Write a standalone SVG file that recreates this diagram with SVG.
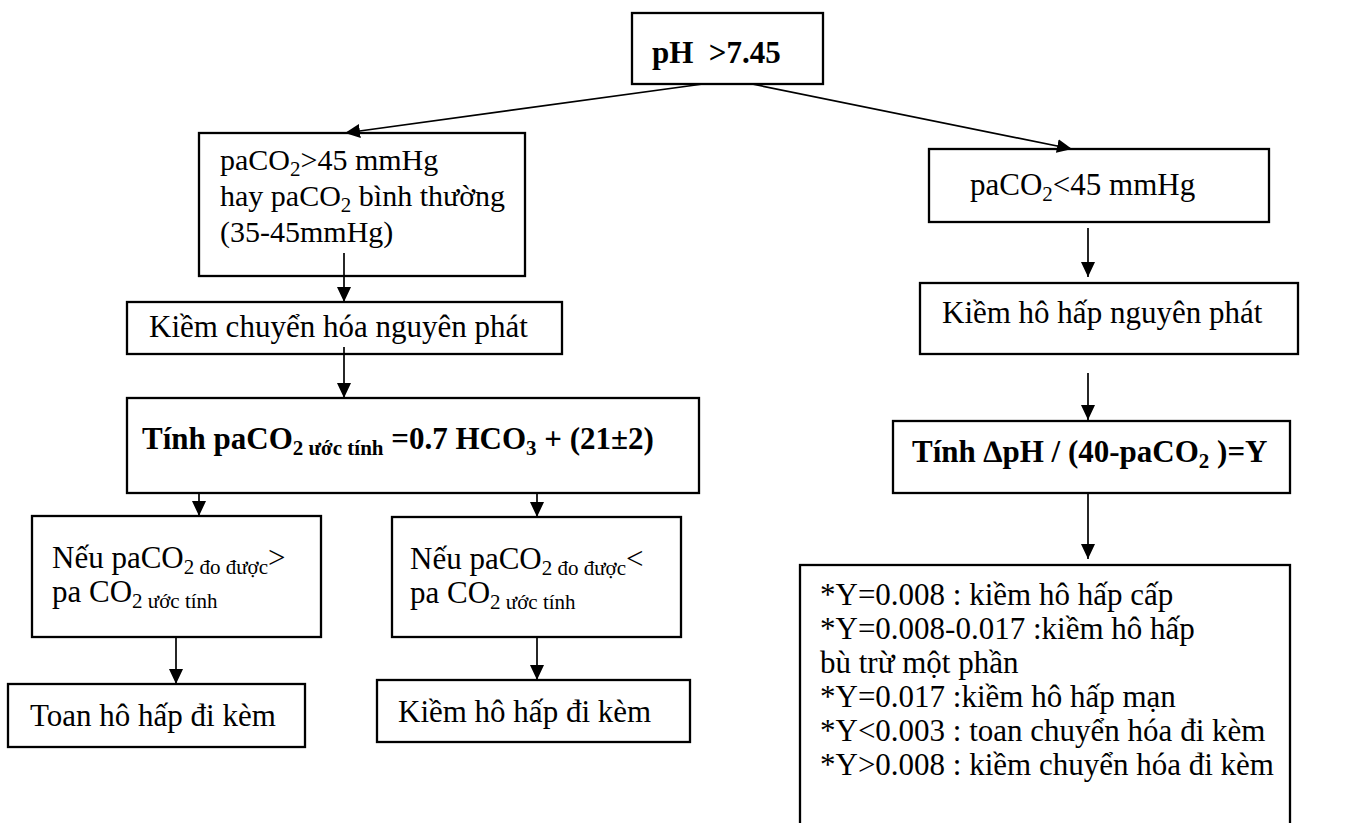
<svg xmlns="http://www.w3.org/2000/svg" width="1356" height="823" viewBox="0 0 1356 823">
<style>
rect.b{fill:#fff;stroke:#000;stroke-width:2.3}
text{font-family:"Liberation Serif","Times New Roman",serif;font-size:31px;fill:#000}
text.bd{font-weight:bold}
text.m{font-size:30px}
.s{font-size:21px}
#connectors line{stroke:#000;stroke-width:1.7;fill:none}
</style>
<defs>
<marker id="ah" markerUnits="userSpaceOnUse" markerWidth="16" markerHeight="16" viewBox="0 0 16 16" refX="15" refY="8" orient="auto">
<path d="M0,1 L15,8 L0,15 Z" fill="#000"/>
</marker>
</defs>
<rect width="1356" height="823" fill="#fff"/>
<g id="n_ph">
<rect class="b" x="632" y="13" width="191" height="71"/>
<text class="bd" x="652" y="63" xml:space="preserve">pH  &gt;7.45</text>
</g>
<g id="n_left1">
<rect class="b" x="199" y="133" width="326" height="143"/>
<text class="m" x="220" y="170">paCO<tspan class="s" dy="6">2</tspan><tspan dy="-6">&gt;45 mmHg</tspan></text>
<text class="m" x="220" y="206">hay paCO<tspan class="s" dy="6">2</tspan><tspan dy="-6"> bình thường</tspan></text>
<text class="m" x="220" y="242">(35-45mmHg)</text>
</g>
<g id="n_kcc">
<rect class="b" x="127" y="302" width="435" height="52"/>
<text x="149" y="337">Kiềm chuyển hóa nguyên phát</text>
</g>
<g id="n_tinh1">
<rect class="b" x="127" y="398" width="572" height="95"/>
<text class="bd" x="142" y="449">Tính paCO<tspan class="s" dy="6">2 ước tính</tspan><tspan dy="-6"> =0.7 HCO</tspan><tspan class="s" dy="6">3</tspan><tspan dy="-6"> + (21±2)</tspan></text>
</g>
<g id="n_a">
<rect class="b" x="32" y="516" width="289" height="121"/>
<text x="52" y="568">Nếu paCO<tspan class="s" dy="6">2 đo được</tspan><tspan dy="-6">&gt;</tspan></text>
<text x="52" y="602">pa CO<tspan class="s" dy="6">2 ước tính</tspan></text>
</g>
<g id="n_b">
<rect class="b" x="392" y="517" width="289" height="120"/>
<text x="410" y="569">Nếu paCO<tspan class="s" dy="6">2 đo được</tspan><tspan dy="-6">&lt;</tspan></text>
<text x="410" y="603">pa CO<tspan class="s" dy="6">2 ước tính</tspan></text>
</g>
<g id="n_toan">
<rect class="b" x="8" y="684" width="297" height="63"/>
<text x="30" y="726">Toan hô hấp đi kèm</text>
</g>
<g id="n_kiemdk">
<rect class="b" x="377" y="680" width="313" height="62"/>
<text x="398" y="722">Kiềm hô hấp đi kèm</text>
</g>
<g id="n_right1">
<rect class="b" x="929" y="149" width="340" height="73"/>
<text x="970" y="195">paCO<tspan class="s" dy="6">2</tspan><tspan dy="-6">&lt;45 mmHg</tspan></text>
</g>
<g id="n_khh">
<rect class="b" x="920" y="283" width="378" height="71"/>
<text x="942" y="323">Kiềm hô hấp nguyên phát</text>
</g>
<g id="n_tinh2">
<rect class="b" x="893" y="421" width="397" height="72"/>
<text class="bd" x="912" y="462">Tính ∆pH / (40-paCO<tspan class="s" dy="6">2</tspan><tspan dy="-6"> )=Y</tspan></text>
</g>
<g id="n_result">
<rect class="b" x="800" y="565" width="490" height="270"/>
<text x="820" y="605">*Y=0.008 : kiềm hô hấp cấp</text>
<text x="820" y="639">*Y=0.008-0.017 :kiềm hô hấp</text>
<text x="820" y="673">bù trừ một phần</text>
<text x="820" y="707">*Y=0.017 :kiềm hô hấp mạn</text>
<text x="820" y="741">*Y&lt;0.003 : toan chuyển hóa đi kèm</text>
<text x="820" y="775">*Y&gt;0.008 : kiềm chuyển hóa đi kèm</text>
</g>
<g id="connectors">
<line x1="703" y1="84" x2="345" y2="133" marker-end="url(#ah)"/>
<line x1="752" y1="84" x2="1072" y2="149" marker-end="url(#ah)"/>
<line x1="344" y1="253" x2="344" y2="302" marker-end="url(#ah)"/>
<line x1="344" y1="347" x2="344" y2="398" marker-end="url(#ah)"/>
<line x1="199" y1="493" x2="199" y2="516" marker-end="url(#ah)"/>
<line x1="537" y1="493" x2="537" y2="517" marker-end="url(#ah)"/>
<line x1="176" y1="637" x2="176" y2="684" marker-end="url(#ah)"/>
<line x1="537" y1="637" x2="537" y2="680" marker-end="url(#ah)"/>
<line x1="1088" y1="228" x2="1088" y2="277" marker-end="url(#ah)"/>
<line x1="1088" y1="373" x2="1088" y2="420" marker-end="url(#ah)"/>
<line x1="1088" y1="493" x2="1088" y2="559" marker-end="url(#ah)"/>
</g>
</svg>
